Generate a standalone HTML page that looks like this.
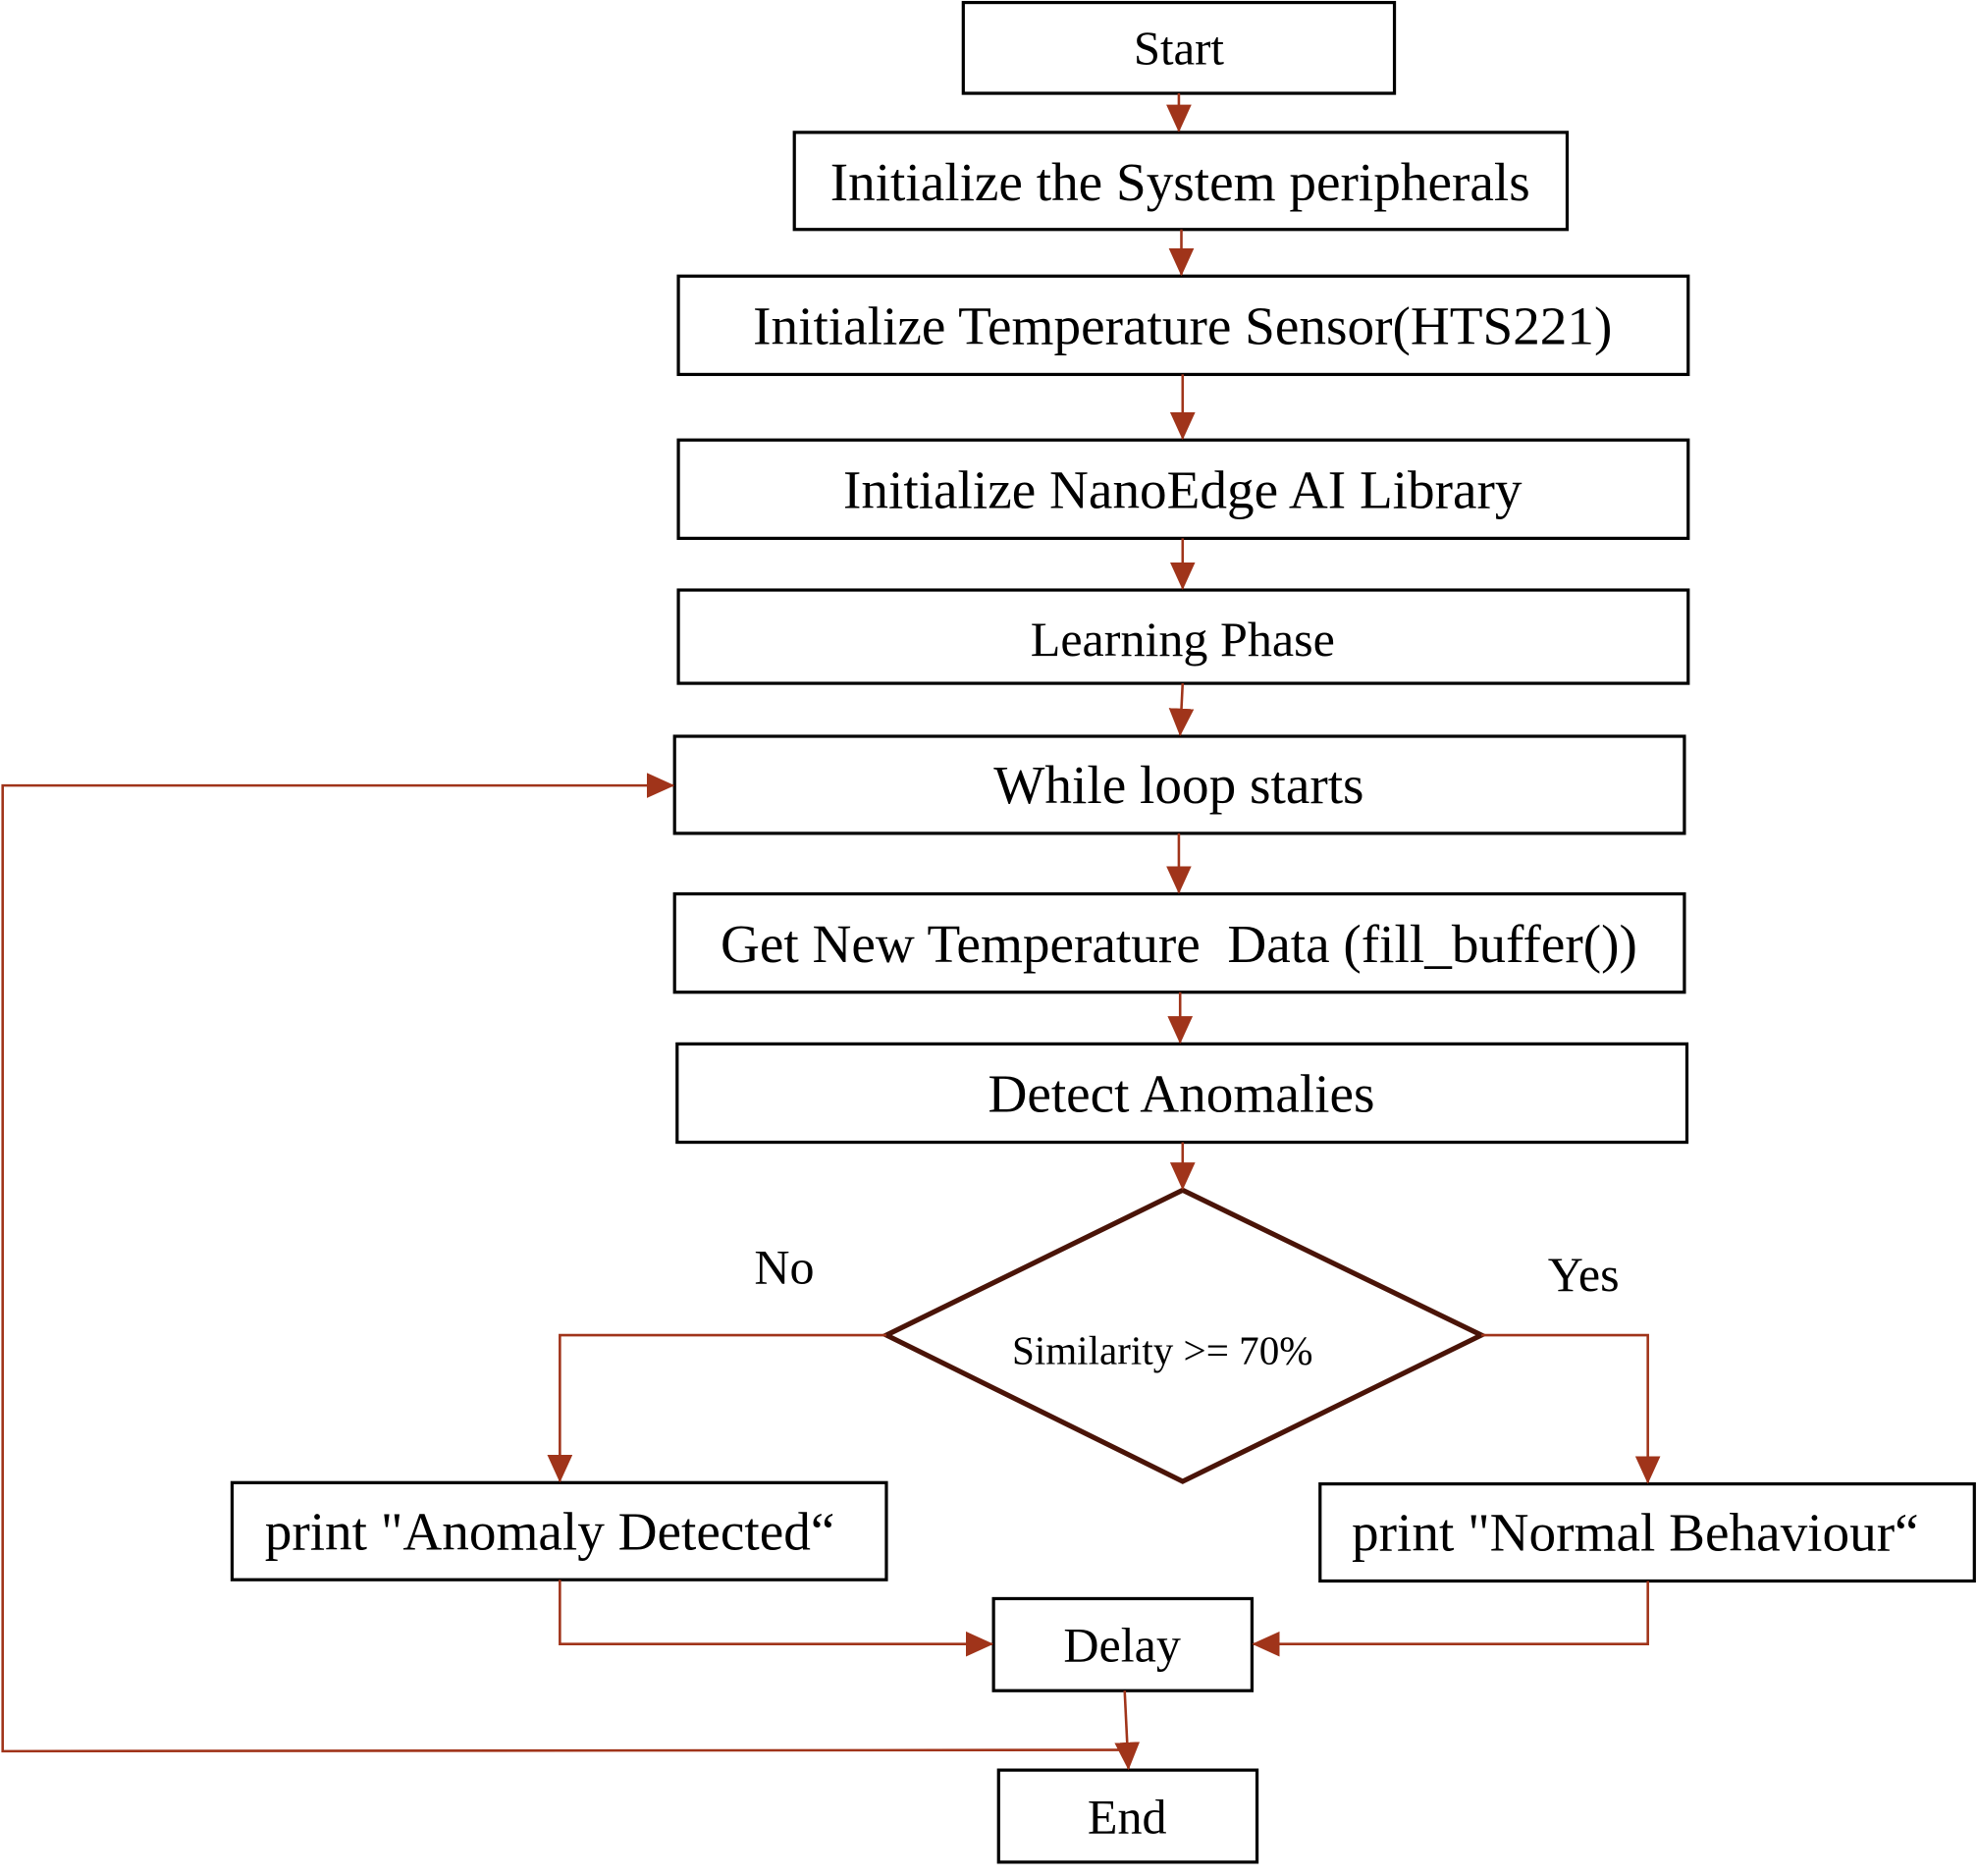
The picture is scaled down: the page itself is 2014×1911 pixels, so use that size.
<!DOCTYPE html>
<html><head><style>html,body{margin:0;padding:0;background:#fff}svg{display:block}</style></head><body>
<svg width="2014" height="1911" viewBox="0 0 1568 1488" xmlns="http://www.w3.org/2000/svg" font-family="Liberation Serif, serif">
<defs>
<marker id="b" markerWidth="22" markerHeight="20" refX="21" refY="10" orient="auto" markerUnits="userSpaceOnUse" viewBox="0 0 22 20"><path d="M0,0 L22,10 L0,20 z" fill="#a0341a"/></marker></defs>
<g fill="#fff" stroke="#000" stroke-width="2.5">
<rect x="764" y="2" width="342" height="72"/>
<rect x="630" y="105" width="613" height="77"/>
<rect x="538" y="219" width="801" height="78"/>
<rect x="538" y="349" width="801" height="78"/>
<rect x="538" y="468" width="801" height="74"/>
<rect x="535" y="584" width="801" height="77"/>
<rect x="535" y="709" width="801" height="78"/>
<rect x="537" y="828" width="801" height="78"/>
<rect x="184" y="1176" width="519" height="77"/>
<rect x="1047" y="1177" width="519" height="77"/>
<rect x="788" y="1268" width="205" height="73"/>
<rect x="792" y="1404" width="205" height="73"/>
</g>
<polygon points="938,944 1175,1059 938,1175 703,1059" fill="#fff" stroke="#4a1408" stroke-width="4"/>
<g fill="none" stroke="#a0341a" stroke-width="2" marker-end="url(#b)">
<path d="M935,74 V104"/>
<path d="M937,182 V218"/>
<path d="M938,297 V348"/>
<path d="M938,427 V467"/>
<path d="M938,542 L936,583"/>
<path d="M935,661 V708"/>
<path d="M936,787 V827"/>
<path d="M938,906 V943"/>
<path d="M703,1059 H444 V1175"/>
<path d="M1175,1059 H1307 V1176"/>
<path d="M444,1253 V1304 H787"/>
<path d="M1307,1254 V1304 H994"/>
<path d="M892,1341 L895,1403"/>
<path d="M893,1388 L2,1389 V623 H534"/>
</g>
<g text-anchor="middle" fill="#000">
<text x="935" y="51" font-size="38">Start</text>
<text x="936" y="159" font-size="43">Initialize the System peripherals</text>
<text x="938" y="273" font-size="43">Initialize Temperature Sensor(HTS221)</text>
<text x="938" y="403" font-size="43">Initialize NanoEdge AI Library</text>
<text x="938" y="520" font-size="39">Learning Phase</text>
<text x="935" y="637" font-size="43">While loop starts</text>
<text x="935" y="763" font-size="43" xml:space="preserve">Get New Temperature  Data (fill_buffer())</text>
<text x="937" y="882" font-size="43">Detect Anomalies</text>
<text x="922" y="1082" font-size="32">Similarity &gt;= 70%</text>
<text x="622" y="1018" font-size="39">No</text>
<text x="1256" y="1024" font-size="39">Yes</text>
<text x="436" y="1229" font-size="43">print "Anomaly Detected“</text>
<text x="1297" y="1230" font-size="43">print "Normal Behaviour“</text>
<text x="890" y="1318" font-size="39">Delay</text>
<text x="894" y="1454" font-size="39">End</text>
</g>
</svg>
</body></html>
